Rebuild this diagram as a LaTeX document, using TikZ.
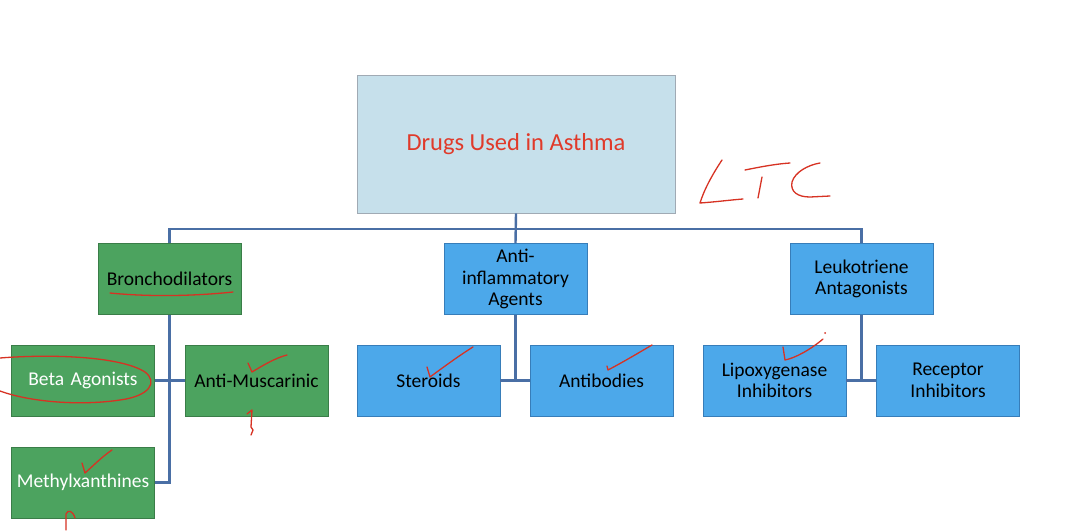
\documentclass[tikz,border=0pt]{standalone}
\usepackage{fontspec}
\setmainfont{Carlito}
\definecolor{topfill}{RGB}{198,224,235}
\definecolor{topline}{RGB}{160,170,180}
\definecolor{gfill}{RGB}{76,163,95}
\definecolor{gline}{RGB}{58,125,72}
\definecolor{bfill}{RGB}{76,168,234}
\definecolor{bline}{RGB}{55,125,185}
\definecolor{conn}{RGB}{74,111,165}
\definecolor{titlered}{RGB}{224,58,42}
\definecolor{pen}{RGB}{215,50,35}
\begin{document}
\begin{tikzpicture}[x=1pt,y=-1pt,
  box/.style={draw,line width=0.8pt,minimum width=143pt,minimum height=71pt,inner sep=2pt,align=center,text width=138pt,font=\fontsize{19.5}{21.5}\selectfont},
  gbox/.style={box,fill=gfill,draw=gline},
  bbox/.style={box,fill=bfill,draw=bline,text=black},
  link/.style={draw=conn,line width=2.4pt},
  ink/.style={draw=pen,line width=1.3pt,line cap=round,line join=round}]
\useasboundingbox[fill=white] (0,0) rectangle (1068,530);
% top
\node[draw=topline,fill=topfill,line width=0.8pt,minimum width=318pt,minimum height=138pt,font=\fontsize{24.5}{28}\selectfont,text=titlered] (top) at (516,144) {Drugs Used in Asthma};
% level 1
\node[gbox,text=black] (bron) at (169.5,279) {Bronchodilators};
\node[bbox] (anti) at (515.5,279) {Anti-\\inflammatory\\Agents};
\node[bbox] (leuk) at (861.5,279) {Leukotriene\\Antagonists};
% level 2
\node[gbox,text=white] (beta) at (83,380.5) {Beta Agonists};
\node[gbox,text=black] (musc) at (256.5,380.5) {Anti-Muscarinic};
\node[gbox,text=white] (meth) at (83,482.5) {Methylxanthines};
\node[bbox] (ster) at (428.5,380.5) {Steroids};
\node[bbox] (antib) at (601.5,380.5) {Antibodies};
\node[bbox] (lipo) at (774.5,380.5) {Lipoxygenase\\Inhibitors};
\node[bbox] (rece) at (948,380.5) {Receptor\\Inhibitors};
% connectors
\coordinate (bus) at (516,229);
\draw[link] (top.south) -- (anti.north);
\draw[link] (bron.north) |- (bus) -| (leuk.north);
\draw[link] (bron.south) -- (bron.south |- meth.east) -- (meth.east);
\draw[link] (beta.east) -- (musc.west);
\coordinate (aj) at (515.5,380.5);
\draw[link] (anti.south) -- (aj);
\draw[link] (ster.east) -- (antib.west);
\coordinate (lj) at (861.5,380.5);
\draw[link] (leuk.south) -- (lj);
\draw[link] (lipo.east) -- (rece.west);
% handwritten annotations
\draw[ink] (110,293) .. controls (150,297) and (195,296) .. (233,292);
\draw[ink] (0,358) .. controls (50,354) and (120,356) .. (145,372) .. controls (158,382) and (150,396) .. (120,400) .. controls (80,406) and (30,402) .. (0,391);
\draw[ink] (248,363) -- (252,372) .. controls (262,366) and (275,358) .. (287,355);
\draw[ink] (247,414) -- (252,410) -- (251,427) -- (253,430) -- (251,435);
\draw[ink] (82,463) -- (85,473) .. controls (95,464) and (103,456) .. (112,450);
\draw[ink] (66,530) -- (66,514) .. controls (68,509) and (73,511) .. (75,518);
\draw[ink] (427,367) -- (430,377) .. controls (445,366) and (460,355) .. (473,347);
\draw[ink] (607,366) -- (608,370) .. controls (625,361) and (640,352) .. (652,345);
\draw[ink] (783,347) -- (785,360) .. controls (795,358) and (810,350) .. (823,339);
\fill[pen] (825,333) circle (1pt);
% LTC
\draw[ink] (722,160) .. controls (712,175) and (704,190) .. (700,203) .. controls (715,202) and (730,200) .. (743,199);
\draw[ink] (745,170) .. controls (760,167) and (775,164) .. (790,163);
\draw[ink] (762,177) -- (758,198);
\draw[ink] (820,163) .. controls (808,165) and (795,172) .. (792,182) .. controls (790,192) and (798,197) .. (810,197) -- (830,196);
\end{tikzpicture}
\end{document}
